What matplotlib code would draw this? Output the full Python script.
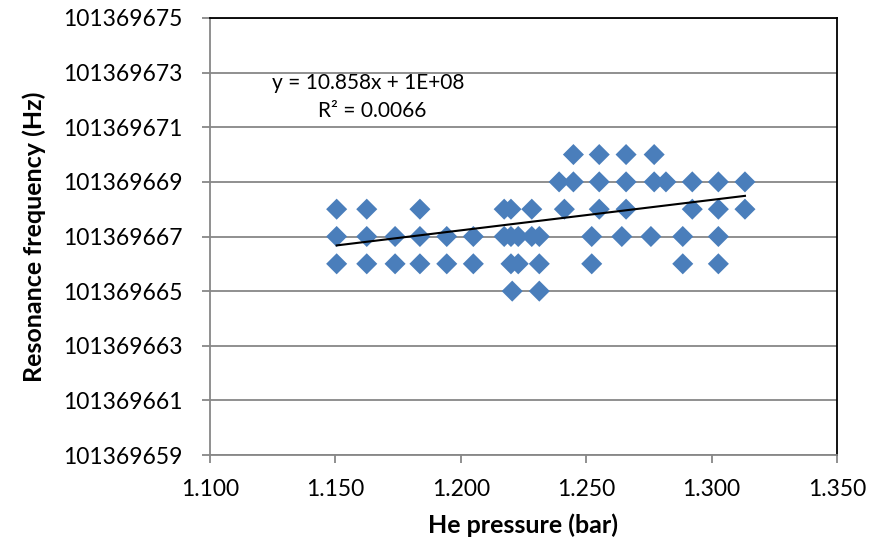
from matplotlib import pyplot as plt
from matplotlib.ticker import FormatStrFormatter
import numpy as np

plt.rcParams['font.family'] = ['Lato', 'DejaVu Sans']

# pressure (bar) and resonance frequency offsets (Hz above 101369660)
base = 101369660
pressure = [
    1.1505, 1.1505, 1.1505,
    1.1625, 1.1625, 1.1625,
    1.1738, 1.1738,
    1.1837, 1.1837, 1.1837,
    1.1944, 1.1944,
    1.2050, 1.2050,
    1.2173, 1.2173,
    1.2200, 1.2200, 1.2200, 1.2205,
    1.2229, 1.2229,
    1.2283, 1.2283,
    1.2313, 1.2313, 1.2313,
    1.2392, 1.2413,
    1.2449, 1.2449,
    1.2522, 1.2522,
    1.2552, 1.2552, 1.2552,
    1.2642,
    1.2659, 1.2659, 1.2659,
    1.2758,
    1.2771, 1.2771,
    1.2818,
    1.2885, 1.2885,
    1.2923, 1.2923,
    1.3027, 1.3027, 1.3027, 1.3027,
    1.3133, 1.3133,
]
freq_offset = [
    8, 7, 6,
    8, 7, 6,
    7, 6,
    8, 7, 6,
    7, 6,
    7, 6,
    8, 7,
    8, 7, 6, 5,
    7, 6,
    8, 7,
    7, 6, 5,
    9, 8,
    10, 9,
    7, 6,
    10, 9, 8,
    7,
    10, 9, 8,
    7,
    10, 9,
    9,
    7, 6,
    9, 8,
    9, 8, 7, 6,
    9, 8,
]

x = np.array(pressure)
y = np.array(freq_offset, dtype=float) + base

fig = plt.figure(figsize=(8.85, 5.44), dpi=100)
ax = fig.add_axes([210 / 885, 89 / 544, 627 / 885, 437 / 544])

grid_c = '#878787'
ax.set_xlim(1.100, 1.350)
ax.set_ylim(101369659, 101369675)
ax.set_xticks(np.arange(1.100, 1.3501, 0.050))
ax.set_yticks(np.arange(101369659, 101369676, 2))
ax.xaxis.set_major_formatter(FormatStrFormatter('%.3f'))
ax.yaxis.set_major_formatter(FormatStrFormatter('%d'))
ax.yaxis.grid(True, color=grid_c, linewidth=1.3)
ax.set_axisbelow(True)

for s in ['left', 'bottom']:
    ax.spines[s].set_color(grid_c)
    ax.spines[s].set_linewidth(1.3)
for s in ['top', 'right']:
    ax.spines[s].set_color('black')
    ax.spines[s].set_linewidth(1.3)
ax.tick_params(axis='both', direction='out', length=6, width=1.3, color=grid_c,
               labelsize=16.5, labelcolor='black')
ax.tick_params(axis='y', pad=14)
ax.tick_params(axis='x', pad=11)

ax.scatter(x, y, marker='D', s=115, color='#4A7EBB', edgecolors='none', zorder=3)

# linear trend line
slope, intercept = np.polyfit(x, y - base, 1)
xl = np.array([x.min(), x.max()])
ax.plot(xl, slope * xl + intercept + base + 0.15, color='black', linewidth=1.5, zorder=4)

ax.text(0.253, 0.851, 'y = 10.858x + 1E+08', transform=ax.transAxes,
        ha='center', va='center', fontsize=15)
ax.text(0.258, 0.787, 'R² = 0.0066', transform=ax.transAxes,
        ha='center', va='center', fontsize=15)

ax.set_xlabel('He pressure (bar)', fontsize=18, fontweight='bold', labelpad=10)
ax.set_ylabel('Resonance frequency (Hz)', fontsize=18, fontweight='bold', labelpad=12)

fig.savefig('out.png', dpi=100)
